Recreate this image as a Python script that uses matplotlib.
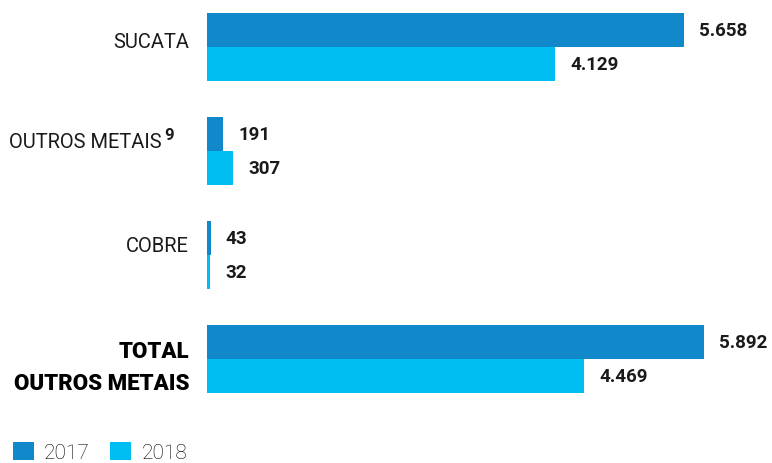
import numpy as np
import matplotlib.pyplot as plt

categories = ["SUCATA", "OUTROS METAIS", "COBRE", "TOTAL\nOUTROS METAIS"]
vals_2017 = [5658, 191, 43, 5892]
vals_2018 = [4129, 307, 32, 4469]
years = ["2017", "2018"]
colors = ["#1188c9", "#00bef2"]

plt.rcParams['font.family'] = ['Roboto', 'DejaVu Sans']

W, H = 772, 464
fig = plt.figure(figsize=(W / 100, H / 100), dpi=100)

# axes start where the bars start; one y unit = spacing between groups
x0 = 207
ax = fig.add_axes([x0 / W, 0, 1 - x0 / W, 1])
px_per_unit = 477 / 5658
ax.set_xlim(0, (W - x0) / px_per_unit)
step = 104
top = 48
ax.set_ylim((H - top) / step, -top / step)
ax.axis('off')

y = np.arange(len(categories))
h = 34 / step
b1 = ax.barh(y - h / 2, vals_2017, height=h, color=colors[0], label=years[0])
b2 = ax.barh(y + h / 2, vals_2018, height=h, color=colors[1], label=years[1])

def fmt(v):
    return f"{v:,}".replace(",", ".")

for bars, vals in [(b1, vals_2017), (b2, vals_2018)]:
    for rect, v in zip(bars, vals):
        ax.annotate(fmt(v), (v, rect.get_y() + rect.get_height() / 2),
                    xytext=(11, 0), textcoords='offset points',
                    ha='left', va='center', fontsize=13.5, fontweight='bold',
                    color='#1a1a1a')

# category labels on the left
def ftext(x, yy, s, **kw):
    fig.text(x / W, 1 - yy / H, s, **kw)

lab_kw = dict(ha='right', va='center', fontsize=14.5, color='#1a1a1a')
ftext(189, 42, categories[0], **lab_kw)
ftext(162, 143, categories[1], **lab_kw)
ftext(164, 135, "9", ha='left', va='center', fontsize=12, fontweight='bold', color='#1a1a1a')
ftext(189, 247, categories[2], **lab_kw)
ftext(189, 352, "TOTAL", ha='right', va='center', fontsize=16,
      fontweight='black', color='#000000')
ftext(189, 384, "OUTROS METAIS", ha='right', va='center', fontsize=16,
      fontweight='black', color='#000000')

fig.legend(handles=[b1, b2], labels=years, loc='upper left',
           bbox_to_anchor=(-4 / W, 1 - 426 / H), ncol=2, frameon=False,
           handlelength=1.0, handleheight=1.0, handletextpad=0.5,
           columnspacing=1.0, borderpad=0.3,
           prop={'family': 'Roboto', 'weight': 'light', 'size': 15})

fig.savefig("out.png", dpi=100)
